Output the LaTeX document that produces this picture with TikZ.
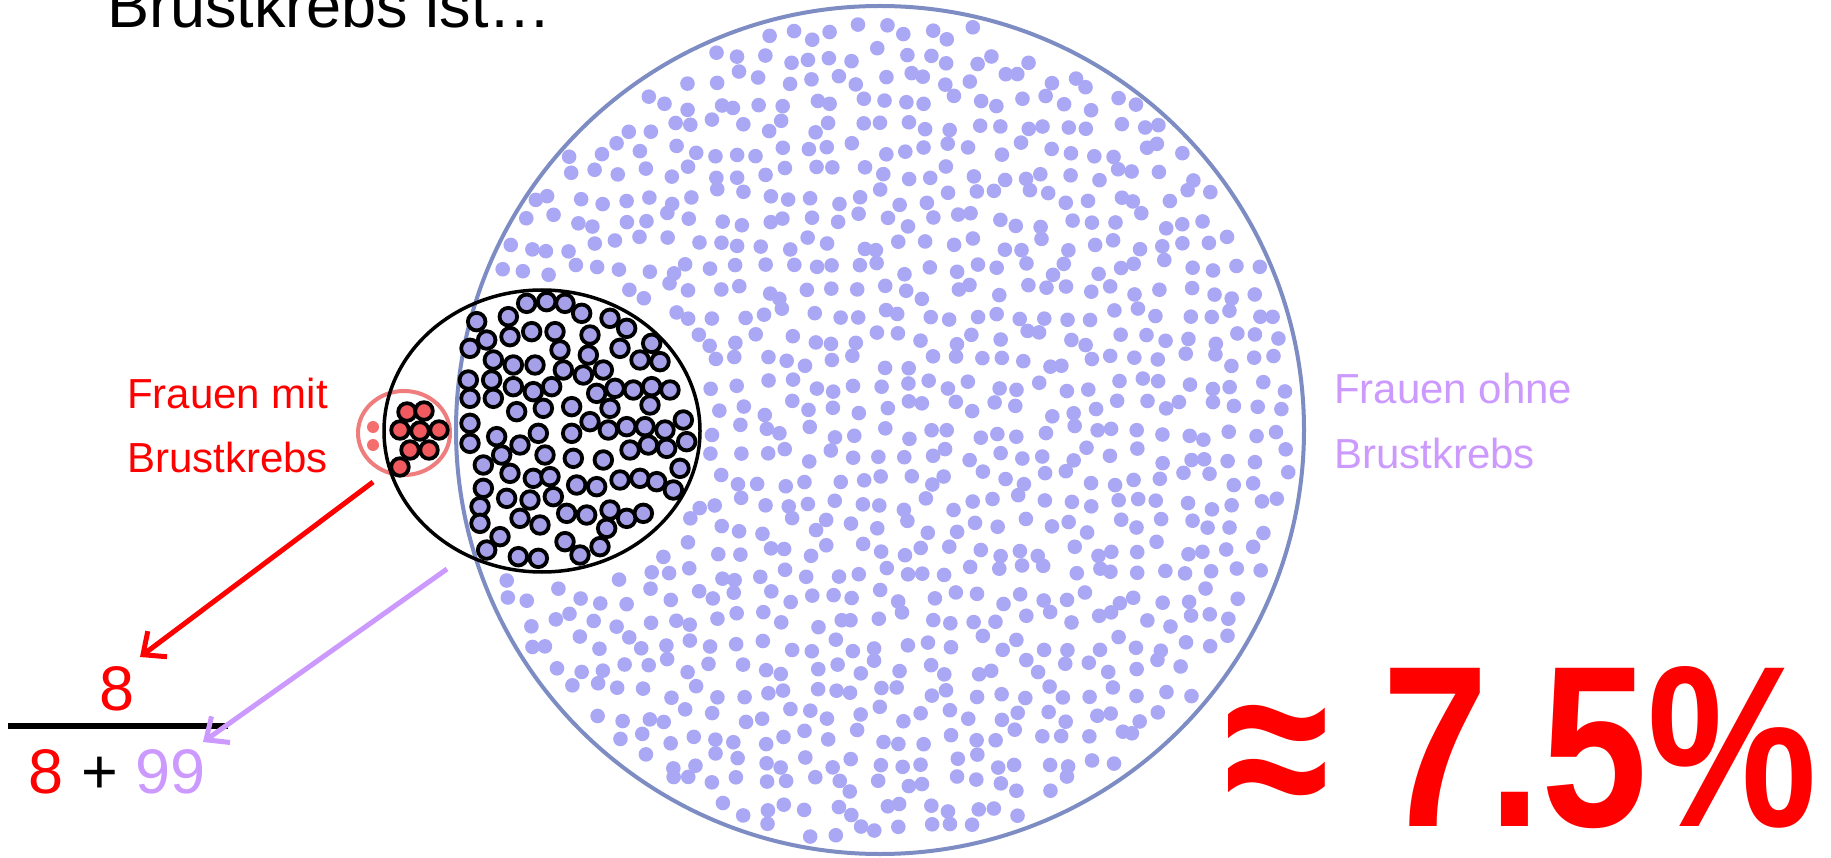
\documentclass[tikz,border=0pt]{standalone}
\usepackage{fontspec}
\setmainfont{Liberation Sans}
\usetikzlibrary{arrows.meta}
\definecolor{lilac}{RGB}{204,153,255}
\definecolor{bigline}{RGB}{125,140,195}
\definecolor{lightdotc}{RGB}{170,168,245}
\definecolor{darkfill}{RGB}{165,160,232}
\definecolor{redfill}{RGB}{240,90,95}
\definecolor{redring}{RGB}{240,125,125}
\definecolor{paler}{RGB}{245,110,110}
\begin{document}
\begin{tikzpicture}[x=1pt,y=-1pt,
  lightdot/.style={fill=lightdotc},
  darkdot/.style={fill=darkfill,draw=black,line width=3.8pt},
  reddot/.style={fill=redfill,draw=black,line width=3.8pt},
  lbl/.style={anchor=base west,inner sep=0pt,font=\fontsize{42}{50}\selectfont},
  fracnum/.style={anchor=base,inner sep=0pt,font=\fontsize{63}{70}\selectfont},
  arrowline/.style={line width=5pt,-{Straight Barb[length=18pt,width=32pt]}}]
\useasboundingbox (0,0) rectangle (1831,858);
\fill[white] (0,0) rectangle (1831,858);
% light background dots
\pgfmathsetseed{7}
\foreach \i in {0,...,36}{
  \foreach \j in {0,...,36}{
    \pgfmathsetmacro{\px}{458+\i*23.5+8*rand}
    \pgfmathsetmacro{\py}{9+\j*23.5+8*rand}
    \pgfmathsetmacro{\dc}{veclen((\px-880)/100,(\py-430)/100)}
    \pgfmathsetmacro{\ex}{(\px-542)/168}
    \pgfmathsetmacro{\ey}{(\py-431)/151}
    \pgfmathsetmacro{\ok}{((\dc<4.145)&&(\ex*\ex+\ey*\ey>1))?1:0}
    \ifdim\ok pt>0.5pt \fill[lightdot] (\px,\py) circle[radius=7.3pt];\fi
  }}
% big circle
\draw[bigline,line width=4pt] (880,430) circle[radius=424pt];
% red ring
\draw[redring,line width=4pt] (404,433) ellipse[x radius=46pt,y radius=42pt];
\fill[paler] (373,427) circle[radius=6pt];
\fill[paler] (373,445) circle[radius=6pt];
% black ellipse
\draw[black,line width=3.5pt] (542,431) ellipse[x radius=158pt,y radius=141pt];
% red dots
\foreach \a/\b in {407/412,424/411,400/430,420/431,439/430,410/450,429/450,400/467}
  \filldraw[reddot] (\a,\b) circle[radius=8.8pt];
% dark blue dots
\foreach \a/\b in {470/70,530/65,585/70,
  635/100,415/110,720/115,320/125,770/145,
  350/180,420/170,485/155,555/155,660/165,
  300/205,570/210,655/225,750/205,845/190,
  370/240,430/255,495/255,580/270,640/285,700/270,810/240,870/245,
  295/300,365/300,430/320,490/335,545/320,680/340,735/325,790/330,845/320,900/330,
  300/355,370/355,440/395,520/385,605/380,720/385,840/375,
  300/430,660/425,715/450,770/440,825/440,885/450,940/420,
  300/490,380/470,450/495,505/460,605/460,835/495,890/505,950/485,780/510,
  395/525,525/525,610/535,700/540,340/555,930/565,
  420/580,490/595,540/590,620/615,680/620,750/600,810/595,860/605,910/630,
  340/625,410/655,480/660,550/650,
  330/680,450/715,510/735,590/700,650/705,720/690,770/715,820/700,
  330/730,390/770,710/745,
  585/785,630/825,690/800,350/810,445/830,505/835}
  \filldraw[darkdot] ({370+\a/3},{280+\b/3}) circle[radius=8.8pt];
% texts
\node[anchor=base west,inner sep=0pt,font=\fontsize{63}{66}\selectfont] (title) at (107,28) {Brustkrebs ist…};
\node[lbl,text=red] (mit1) at (127,408) {Frauen mit};
\node[lbl,text=red] (mit2) at (127,472) {Brustkrebs};
\node[lbl,text=lilac] (ohne1) at (1334,403) {Frauen ohne};
\node[lbl,text=lilac] (ohne2) at (1334,468) {Brustkrebs};
% fraction
\node[fracnum,text=red] (num) at (117,710) {8};
\coordinate (barL) at (8,726);
\coordinate (barR) at (228,726);
\draw[line width=6pt] (barL) -- (barR);
\node[fracnum] (den) at (117,793) {\textcolor{red}{8} + \textcolor{lilac}{99}};
% arrows
\coordinate (redstart) at (373,482);
\coordinate (redend) at (140,657);
\draw[arrowline,red] (redstart) -- (redend);
\coordinate (lilacstart) at (447,569);
\coordinate (lilacend) at (203,742);
\draw[arrowline,lilac] (lilacstart) -- (lilacend);
% result
\node[anchor=base east,inner sep=0pt,text=red,font=\bfseries\fontsize{230}{240}\selectfont,xscale=0.83] (pct) at (1818,826) {≈ 7.5\%};
\end{tikzpicture}
\end{document}
